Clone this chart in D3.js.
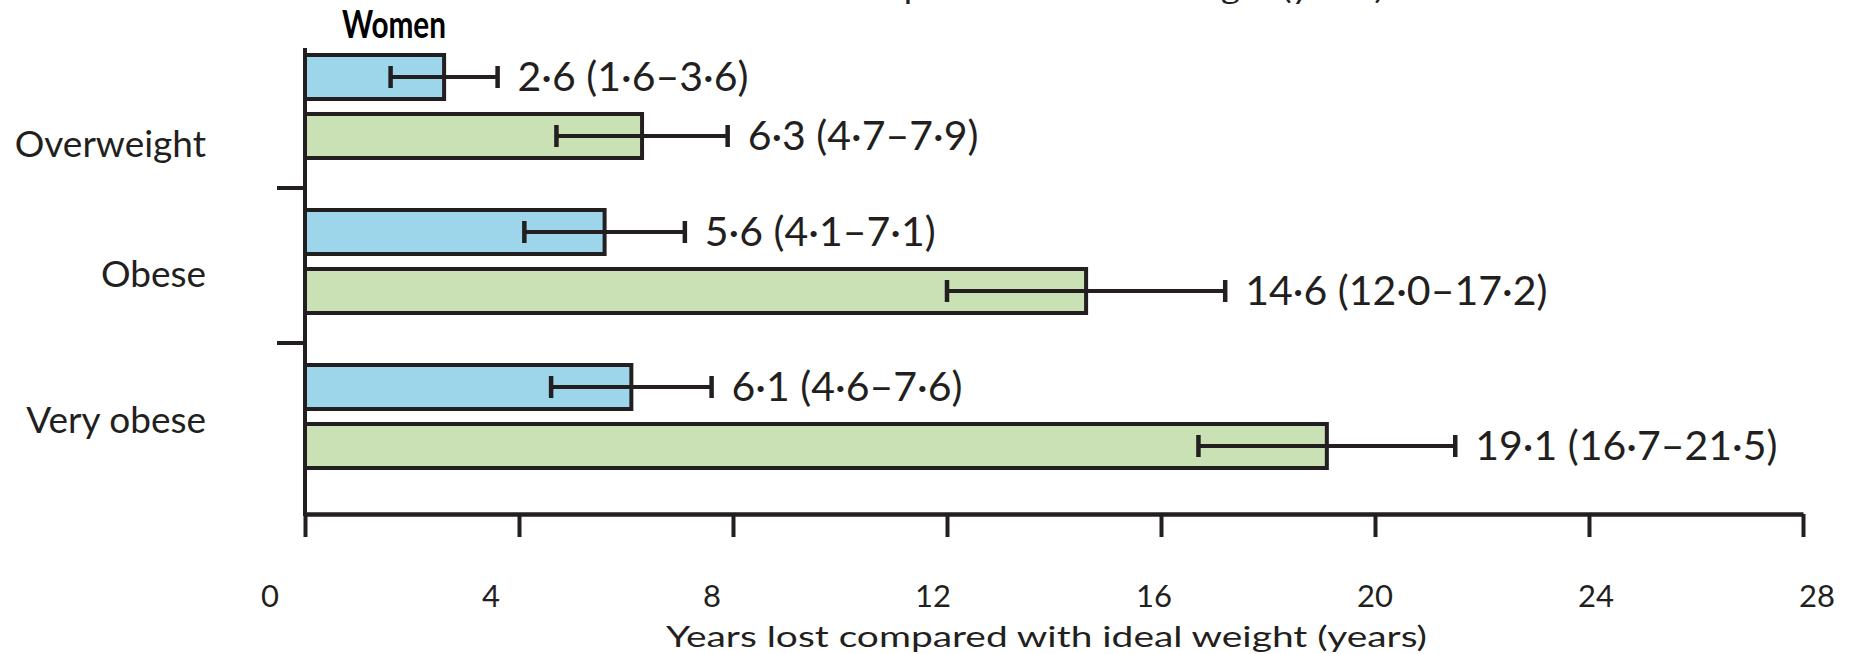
<!DOCTYPE html>
<html>
<head>
<meta charset="utf-8">
<script src="https://cdn.jsdelivr.net/npm/d3@7"></script>
<style>
  body { margin: 0; background: #fff; }
  text { font-family: Lato, "Open Sans", sans-serif; fill: #231f20; }
</style>
</head>
<body>
<div id="container"></div>
<script>
var width = 1849, height = 654;

// categories and series
var categories = ["Overweight", "Obese", "Very obese"];
var series = ["lifeYears", "healthyYears"];

// years lost (estimate, lower, upper) — blue series then green series
var blueValues = [2.6, 5.6, 6.1];
var blueLow    = [1.6, 4.1, 4.6];
var blueHigh   = [3.6, 7.1, 7.6];
var greenValues = [6.3, 14.6, 19.1];
var greenLow    = [4.7, 12.0, 16.7];
var greenHigh   = [7.9, 17.2, 21.5];

var xTicks = [0, 4, 8, 12, 16, 20, 24, 28];
var panelTitle = "Women";
var axisTitle = "Years lost compared with ideal weight (years)";

var colors = { lifeYears: "#9dd6ea", healthyYears: "#cae0b5" };
var ink = "#231f20";

// build rows from the arrays
var rows = [];
categories.forEach(function(c, i) {
    rows.push({ cat: c, s: "lifeYears", v: blueValues[i], lo: blueLow[i], hi: blueHigh[i] });
    rows.push({ cat: c, s: "healthyYears", v: greenValues[i], lo: greenLow[i], hi: greenHigh[i] });
});

var svg = d3.select("#container")
    .append("svg")
    .attr("width", width)
    .attr("height", height);

var x = d3.scaleLinear().domain([0, 28]).range([305, 1803]);
// the printed tick numbers sit a little off the tick marks in the original
var xLabel = d3.scaleLinear().domain([0, 28]).range([270, 1817]);

var y0 = d3.scaleBand().domain(categories).range([33, 498]);
var y1 = d3.scaleBand().domain(series).range([22, 125]).paddingInner(0.254);
var catLabelY = d3.scaleOrdinal().domain(categories).range([157, 287, 433]);

function fmt(n) { return n.toFixed(1).replace(".", "\u00b7"); }

// bars
var g = svg.append("g");
g.selectAll("rect.bar")
    .data(rows)
    .enter()
    .append("rect")
    .attr("class", "bar")
    .attr("x", x(0))
    .attr("y", function(d) { return y0(d.cat) + y1(d.s); })
    .attr("width", function(d) { return x(d.v) - x(0); })
    .attr("height", y1.bandwidth())
    .style("fill", function(d) { return colors[d.s]; })
    .style("stroke", ink)
    .style("stroke-width", 4);

// error bars
var eb = g.selectAll("g.err")
    .data(rows)
    .enter()
    .append("g")
    .attr("class", "err")
    .attr("transform", function(d) {
        return "translate(0," + (y0(d.cat) + y1(d.s) + y1.bandwidth() / 2) + ")";
    });

eb.append("line")
    .attr("x1", function(d) { return x(d.lo); })
    .attr("x2", function(d) { return x(d.hi); })
    .style("stroke", ink)
    .style("stroke-width", 4);

eb.selectAll("line.cap")
    .data(function(d) { return [d.lo, d.hi]; })
    .enter()
    .append("line")
    .attr("class", "cap")
    .attr("x1", function(v) { return x(v); })
    .attr("x2", function(v) { return x(v); })
    .attr("y1", -11)
    .attr("y2", 11)
    .style("stroke", ink)
    .style("stroke-width", 4.5);

eb.append("text")
    .attr("x", function(d) { return x(d.hi) + 20; })
    .attr("dy", "0.35em")
    .style("font-size", "41px")
    .text(function(d) { return fmt(d.v) + " (" + fmt(d.lo) + "\u2013" + fmt(d.hi) + ")"; });

// x axis
var xAxis = d3.axisBottom(x)
    .tickValues(xTicks)
    .tickSize(23)
    .tickSizeOuter(0)
    .tickFormat("");

var ax = svg.append("g")
    .attr("transform", "translate(0,514)")
    .call(xAxis);
ax.select(".domain").style("stroke", ink).style("stroke-width", 4.5);
ax.selectAll(".tick line").style("stroke", ink).style("stroke-width", 4);

svg.append("g").selectAll("text")
    .data(xTicks)
    .enter()
    .append("text")
    .attr("x", function(d) { return xLabel(d); })
    .attr("y", 607)
    .attr("text-anchor", "middle")
    .style("font-size", "31px")
    .text(function(d) { return d; });

svg.append("text")
    .attr("x", 666)
    .attr("y", 647)
    .attr("textLength", 761)
    .attr("lengthAdjust", "spacingAndGlyphs")
    .style("font-size", "29px")
    .text(axisTitle);

// axis title of the panel above, cut off by the top edge
svg.append("text")
    .attr("x", 676)
    .attr("y", -1)
    .attr("textLength", 708)
    .attr("lengthAdjust", "spacingAndGlyphs")
    .style("font-size", "29px")
    .text(axisTitle);

// y axis line and group separators
svg.append("line")
    .attr("x1", x(0)).attr("x2", x(0))
    .attr("y1", 48).attr("y2", 516)
    .style("stroke", ink)
    .style("stroke-width", 4);

svg.append("g").selectAll("line")
    .data(categories.slice(1))
    .enter()
    .append("line")
    .attr("x1", x(0) - 28)
    .attr("x2", x(0))
    .attr("y1", function(d) { return y0(d); })
    .attr("y2", function(d) { return y0(d); })
    .style("stroke", ink)
    .style("stroke-width", 4);

// category labels
svg.append("g").selectAll("text")
    .data(categories)
    .enter()
    .append("text")
    .attr("x", 206)
    .attr("y", function(d) { return catLabelY(d); })
    .attr("text-anchor", "end")
    .style("font-size", "37px")
    .text(function(d) { return d; });

// panel title
svg.append("text")
    .attr("x", 342)
    .attr("y", 38)
    .attr("textLength", 104)
    .attr("lengthAdjust", "spacingAndGlyphs")
    .style("font-size", "38px")
    .style("font-weight", "bold")
    .style("fill", "#000")
    .text(panelTitle);
</script>
</body>
</html>
